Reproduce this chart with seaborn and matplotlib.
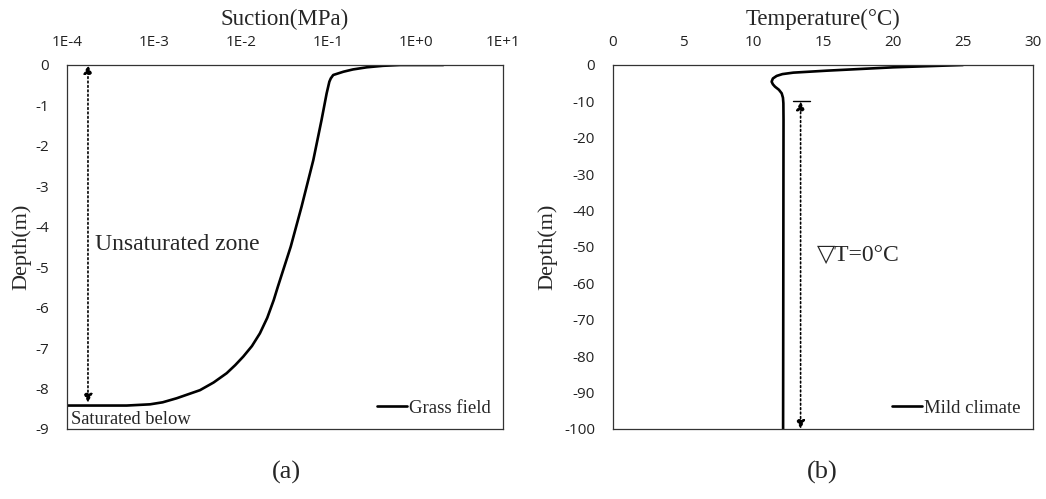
import seaborn as sns
import matplotlib.pyplot as plt
import matplotlib.ticker as mticker
from matplotlib.lines import Line2D
import pandas as pd

# -------------------------------
# Data
# -------------------------------
suction_depth = [0, 0, -0.02, -0.057, -0.11, -0.166, -0.247, -0.33, -0.413, -0.70,
                 -1.36, -2.35, -3.5, -4.49, -5.48, -5.81, -6.25, -6.635, -6.95,
                 -7.21, -7.42, -7.62, -7.85, -8.04, -8.24, -8.34, -8.39, -8.42, -8.42]
suction_mpa = [2.07, 0.66, 0.42, 0.274, 0.19, 0.148, 0.113, 0.106, 0.102, 0.095,
               0.083, 0.0668, 0.049, 0.0368, 0.0262, 0.0235, 0.0198, 0.0163, 0.0132,
               0.0105, 0.0085, 0.00678, 0.0048, 0.00335, 0.00181, 0.00125, 0.000895,
               0.000484, 0.0001]

temp_depth = [0, -0.64, -1.56, -2.1, -2.5, -3.0, -3.7, -4.58, -5.3, -5.95, -6.8,
              -7.78, -9.0, -10.5, -15, -100]
temp_c = [25.0, 20.0, 15.26, 12.88, 12.1, 11.69, 11.42, 11.33, 11.42, 11.57, 11.85,
          12.05, 12.14, 12.17, 12.18, 12.15]

suction_ticks = [1e-4, 1e-3, 1e-2, 1e-1, 1e0, 1e1]
suction_labels = ["1E-4", "1E-3", "1E-2", "1E-1", "1E+0", "1E+1"]

df_s = pd.DataFrame({"Suction": suction_mpa, "Depth": suction_depth})
df_t = pd.DataFrame({"Temperature": temp_c, "Depth": temp_depth})

# -------------------------------
# Style
# -------------------------------
sns.set_style("ticks")
plt.rcParams["font.family"] = ["Open Sans", "DejaVu Sans"]
plt.rcParams["axes.unicode_minus"] = False
plt.rcParams["lines.solid_joinstyle"] = "round"
serif = ["Liberation Serif", "DejaVu Serif"]
tick_fs = 11
curve_lw = 1.9

fig = plt.figure(figsize=(10.46, 4.99), dpi=100)
W, H = 1046, 499
ax1 = fig.add_axes([67 / W, 1 - 429 / H, 436 / W, 364 / H])
ax2 = fig.add_axes([613 / W, 1 - 429 / H, 420 / W, 364 / H])

# -------------------------------
# (a) Suction profile
# -------------------------------
sns.lineplot(data=df_s, x="Suction", y="Depth", sort=False, orient="y",
             estimator=None, color="black", lw=curve_lw, ax=ax1)
ax1.set_xscale("log")
ax1.set_xlim(1e-4, 1e1)
ax1.set_ylim(-9, 0)
ax1.xaxis.set_major_locator(mticker.FixedLocator(suction_ticks))
ax1.xaxis.set_major_formatter(mticker.FixedFormatter(suction_labels))
ax1.xaxis.set_minor_locator(mticker.NullLocator())
ax1.set_yticks(range(0, -10, -1))
ax1.xaxis.tick_top()
ax1.xaxis.set_label_position("top")
ax1.set_xlabel("Suction(MPa)", family=serif, fontsize=16.5, labelpad=7)
ax1.set_ylabel("Depth(m)", family=serif, fontsize=16, labelpad=3)

ax1.annotate("", xy=(1.74e-4, 0), xytext=(1.74e-4, -8.35),
             arrowprops=dict(arrowstyle="<|-|>", ls=":", lw=1.2, color="black",
                             mutation_scale=13, shrinkA=0, shrinkB=0))
ax1.text(2.1e-4, -4.45, "Unsaturated zone", family=serif, fontsize=17,
         va="center", ha="left")
ax1.text(1.1e-4, -8.76, "Saturated below", family=serif, fontsize=13.3,
         va="center", ha="left")
ax1.legend(handles=[Line2D([], [], color="black", lw=curve_lw)], labels=["Grass field"],
           loc="lower right", frameon=False, handlelength=1.6, handletextpad=0.1,
           borderaxespad=0.25, prop={"family": serif, "size": 13.5})

# -------------------------------
# (b) Temperature profile
# -------------------------------
sns.lineplot(data=df_t, x="Temperature", y="Depth", sort=False, orient="y",
             estimator=None, color="black", lw=curve_lw, ax=ax2)
ax2.set_xlim(0, 30)
ax2.set_ylim(-100, 0)
ax2.set_xticks(range(0, 31, 5))
ax2.set_yticks(range(0, -101, -10))
ax2.xaxis.tick_top()
ax2.xaxis.set_label_position("top")
ax2.set_xlabel("Temperature(°C)", family=serif, fontsize=16.5, labelpad=7)
ax2.set_ylabel("Depth(m)", family=serif, fontsize=16, labelpad=5)

ax2.annotate("", xy=(13.4, -10), xytext=(13.4, -100),
             arrowprops=dict(arrowstyle="<|-|>", ls=":", lw=1.2, color="black",
                             mutation_scale=13, shrinkA=0, shrinkB=0))
ax2.plot([12.86, 14.07], [-10, -10], color="black", lw=1.0)
ax2.text(14.6, -52.5, "▽T=0°C", family=serif, fontsize=17, va="center", ha="left")
ax2.legend(handles=[Line2D([], [], color="black", lw=curve_lw)], labels=["Mild climate"],
           loc="lower right", frameon=False, handlelength=1.6, handletextpad=0.1,
           borderaxespad=0.25, prop={"family": serif, "size": 13.5})

for ax in (ax1, ax2):
    ax.tick_params(axis="both", length=0, labelsize=tick_fs, colors="#222222")
    ax.tick_params(axis="y", pad=13)
    ax.tick_params(axis="x", pad=11)
    for s in ax.spines.values():
        s.set_linewidth(0.9)
        s.set_color("#333333")

fig.text(286 / W, 1 - 472 / H, "(a)", family=serif, fontsize=19, ha="center", va="center")
fig.text(822 / W, 1 - 472 / H, "(b)", family=serif, fontsize=19, ha="center", va="center")

# -------------------------------
# Save
# -------------------------------
fig.savefig("out.png", dpi=100)
plt.close(fig)
